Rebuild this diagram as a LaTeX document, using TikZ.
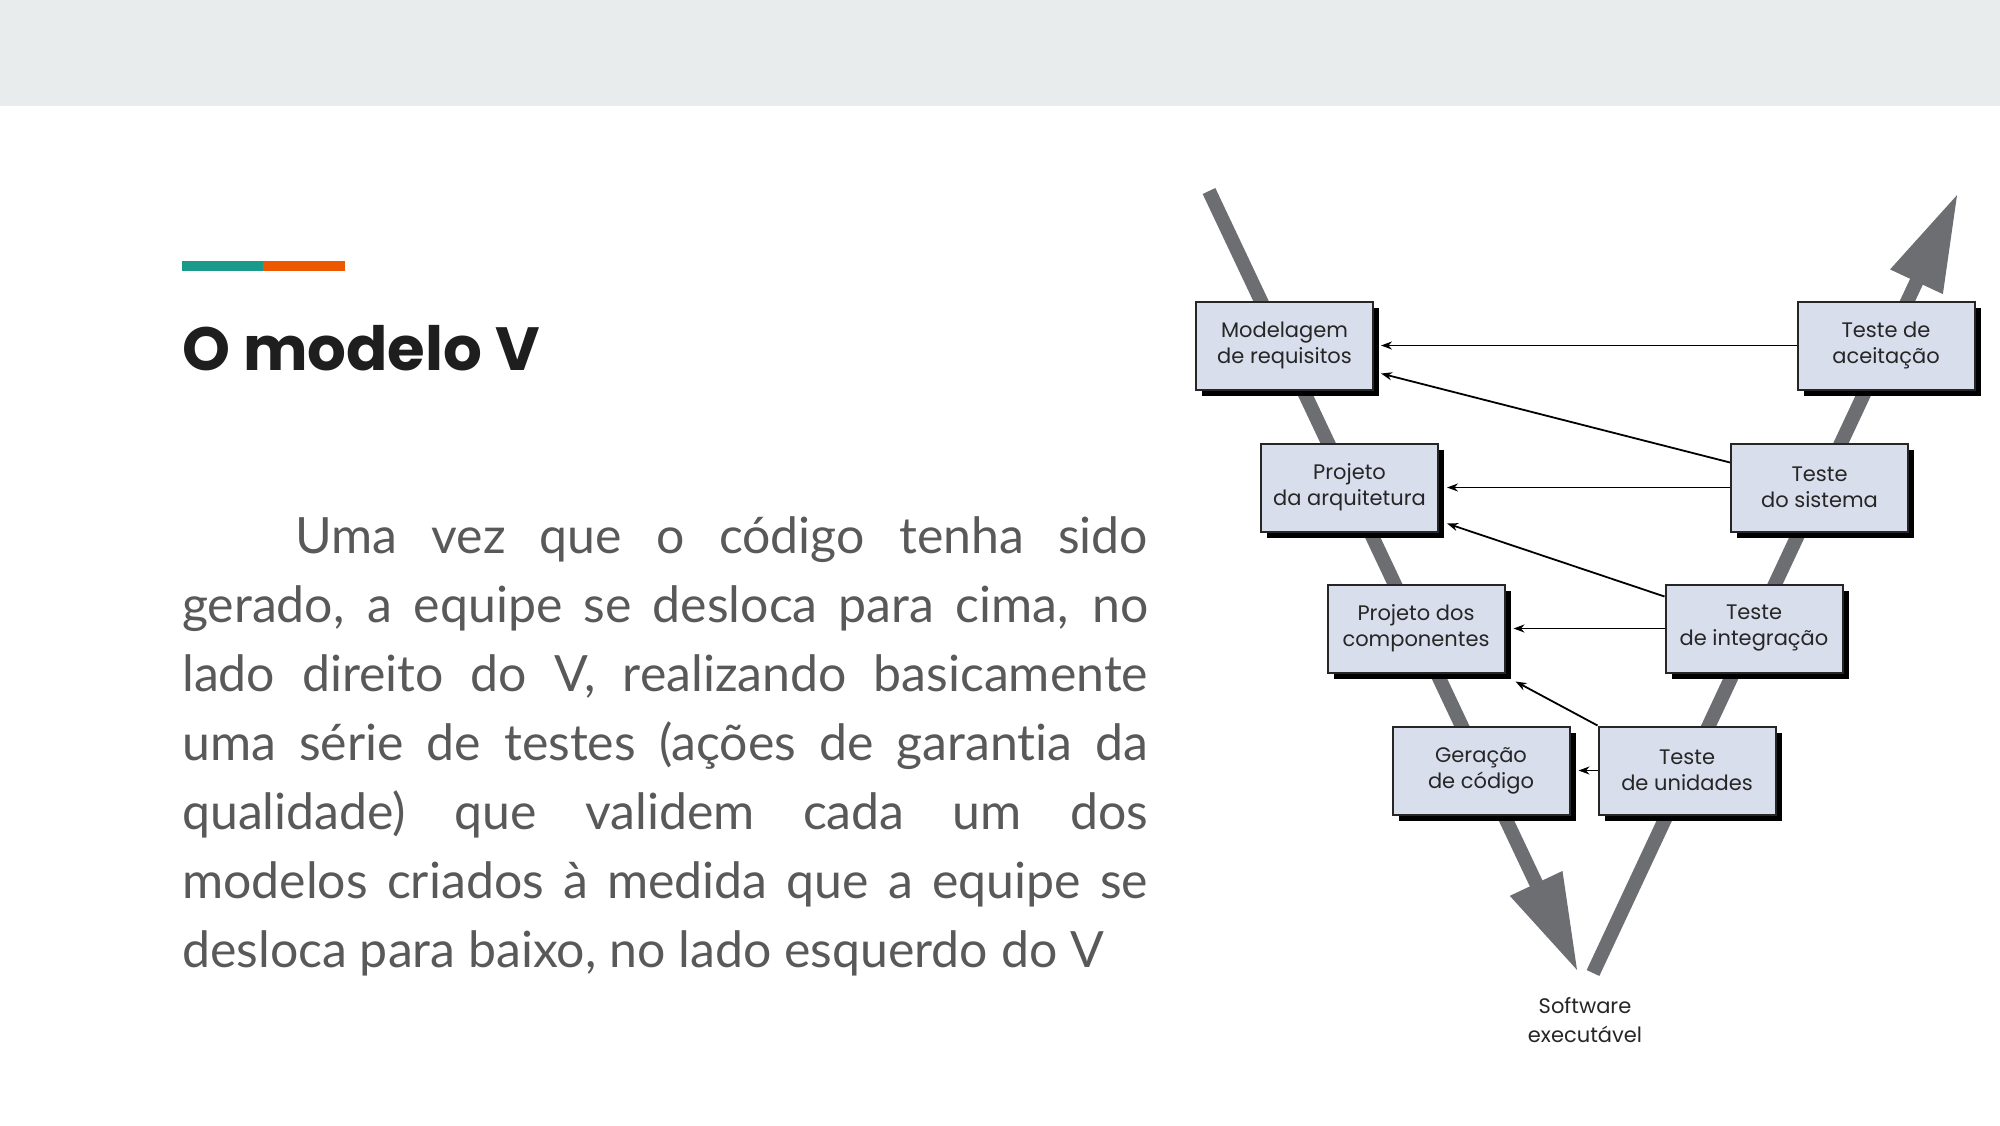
\documentclass[tikz,border=0pt]{standalone}
\usepackage{fontspec}
\setmainfont{Lato}[Ligatures=NoCommon]
\newfontfamily\titlefont{Poppins}
\newfontfamily\boxfont{Poppins}
\usepackage{xcolor}
\definecolor{band}{RGB}{232,236,237}
\definecolor{barteal}{RGB}{26,154,138}
\definecolor{barorange}{RGB}{238,88,0}
\definecolor{vgray}{RGB}{109,110,114}
\definecolor{boxfill}{RGB}{217,222,237}
\definecolor{bodytext}{RGB}{89,89,89}
\definecolor{titletext}{RGB}{30,30,30}
\usepackage{tikz}
\usetikzlibrary{arrows.meta}
\usetikzlibrary{shadows}

\tikzset{
  etapa/.style={draw=black!85, line width=2pt, fill=boxfill, minimum width=177pt,
    minimum height=88pt, inner sep=0pt, align=center, text=black!85,
    font=\boxfont\fontsize{21}{26}\selectfont,
    general shadow={fill=black, shadow xshift=6pt, shadow yshift=-6pt}},
  haste/.style={vgray, line width=14pt, -{Triangle[length=98pt,width=54pt]}},
  retorno/.style={black, line width=1.8pt, -{Stealth[length=11pt,width=8pt]}},
  linha/.style={anchor=base west, inner sep=0pt, text=bodytext,
    font=\fontsize{50}{60}\selectfont}
}

\begin{document}
\begin{tikzpicture}[x=1pt,y=-1pt]
\useasboundingbox (0,0) rectangle (2000,1125);
\fill[white] (0,0) rectangle (2000,1125);
\fill[band] (0,0) rectangle (2000,106);
\fill[barteal] (182,261) rectangle (263,271);
\fill[barorange] (263,261) rectangle (345,271);

\node[anchor=base west, inner sep=0pt, text=titletext,
  font=\titlefont\bfseries\fontsize{61}{70}\selectfont] (titulo) at (182,370) {O modelo V};

\node[linha] (l1) at (295,553) {\makebox[853pt][s]{Uma vez que o código tenha sido}};
\node[linha] (l2) at (182,622) {\makebox[966pt][s]{gerado, a equipe se desloca para cima, no}};
\node[linha] (l3) at (182,691) {\makebox[966pt][s]{lado direito do V, realizando basicamente}};
\node[linha] (l4) at (182,760) {\makebox[966pt][s]{uma série de testes (ações de garantia da}};
\node[linha] (l5) at (182,829) {\makebox[966pt][s]{qualidade) que validem cada um dos}};
\node[linha] (l6) at (182,898) {\makebox[966pt][s]{modelos criados à medida que a equipe se}};
\node[linha] (l7) at (182,967) {desloca para baixo, no lado esquerdo do V};

% the V
\coordinate (topL) at (1209,191);
\coordinate (tipL) at (1578,972);
\coordinate (botR) at (1593,973);
\coordinate (tipR) at (1958,193);
\draw[haste] (topL) -- (tipL);
\draw[haste] (botR) -- (tipR);

\node[etapa] (req) at (1284.5,345.5) {Modelagem\\de requisitos};
\node[etapa] (arq) at (1349.5,487.5) {Projeto\\da arquitetura};
\node[etapa] (comp) at (1416,628.5) {Projeto dos\\componentes};
\node[etapa] (cod) at (1481,770.5) {Geração\\de código};
\node[etapa] (uni) at (1687,770.5) {Teste\\de unidades};
\node[etapa] (integ) at (1754,628.5) {Teste\\de integração};
\node[etapa] (sis) at (1819.5,487.5) {Teste\\do sistema};
\node[etapa] (acei) at (1886,345.5) {Teste de\\aceitação};

\draw[retorno] (acei.west) -- ([xshift=7pt]req.east);
\draw[retorno] ([yshift=-20pt]sis.north west) -- ([shift={(7pt,17pt)}]req.south east);
\draw[retorno] (sis.west) -- ([xshift=8pt]arq.east);
\draw[retorno] ([yshift=-13pt]integ.north west) -- ([shift={(8pt,9pt)}]arq.south east);
\draw[retorno] (integ.west) -- ([xshift=8pt]comp.east);
\draw[retorno] (uni.north west) -- ([shift={(10pt,-8pt)}]comp.south east);
\draw[retorno] (uni.west) -- ([xshift=8pt]cod.east);

\node[font=\boxfont\fontsize{21}{29}\selectfont, text=black!85, align=center] (exe) at (1585,1020) {Software\\executável};
\end{tikzpicture}
\end{document}
